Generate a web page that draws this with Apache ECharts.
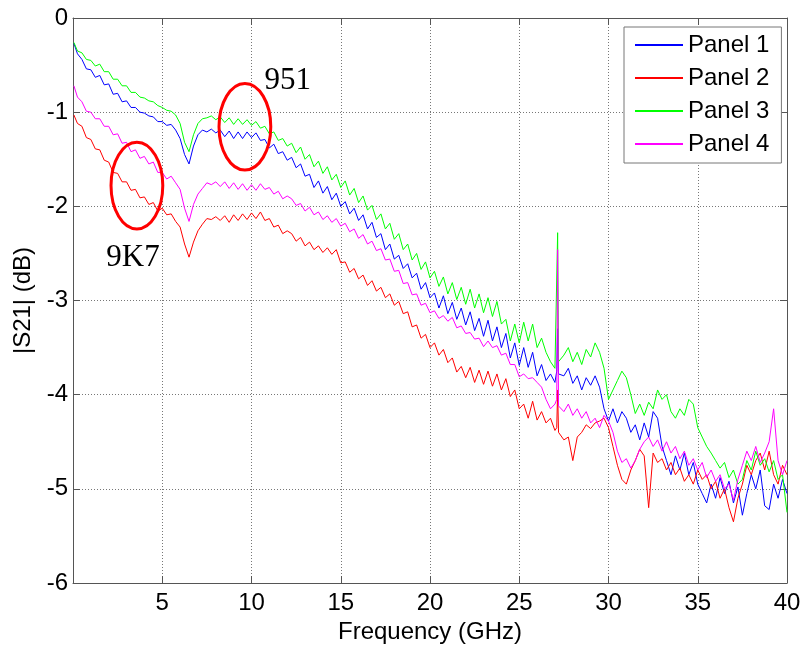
<!DOCTYPE html>
<html>
<head>
<meta charset="utf-8">
<script src="https://cdn.jsdelivr.net/npm/echarts@6/dist/echarts.min.js"></script>
<style>html,body{margin:0;padding:0;background:#fff;}#c{width:804px;height:649px;}</style>
</head>
<body>
<div id="c"></div>
<script>
const freq = [
0.05,0.25,0.5,0.75,1,1.25,1.5,1.75,2,
2.25,2.5,2.75,3,3.25,3.5,3.75,4,
4.25,4.5,4.75,5,5.25,5.5,5.75,6,
6.25,6.5,6.75,7,7.25,7.5,7.75,8,
8.25,8.5,8.75,9,9.25,9.5,9.75,10,
10.25,10.5,10.75,11,11.25,11.5,11.75,12,
12.25,12.5,12.75,13,13.25,13.5,13.75,14,
14.25,14.5,14.75,15,15.25,15.5,15.75,16,
16.25,16.5,16.75,17,17.25,17.5,17.75,18,
18.25,18.5,18.75,19,19.25,19.5,19.75,20,
20.25,20.5,20.75,21,21.25,21.5,21.75,22,
22.25,22.5,22.75,23,23.25,23.5,23.75,24,
24.25,24.5,24.75,25,25.25,25.5,25.75,26,
26.25,26.5,26.75,27,27.1,27.15,27.2,27.5,27.75,28,
28.25,28.5,28.75,29,29.25,29.5,29.75,30,
30.25,30.5,30.75,31,31.25,31.5,31.75,32,
32.25,32.5,32.75,33,33.25,33.5,33.75,34,
34.25,34.5,34.75,35,35.25,35.5,35.75,36,
36.25,36.5,36.75,37,37.25,37.5,37.75,38,
38.25,38.5,38.75,39,39.25,39.5,39.75,40
];
const panel1 = [
-0.27,-0.38,-0.44,-0.54,-0.55,-0.63,-0.61,-0.71,-0.70,
-0.81,-0.80,-0.89,-0.88,-0.95,-0.95,-1.00,-1.01,
-1.04,-1.05,-1.10,-1.10,-1.14,-1.13,-1.19,-1.28,
-1.45,-1.55,-1.36,-1.24,-1.19,-1.21,-1.18,-1.22,
-1.19,-1.26,-1.20,-1.28,-1.21,-1.28,-1.21,-1.27,
-1.22,-1.30,-1.29,-1.38,-1.34,-1.44,-1.42,-1.51,
-1.48,-1.59,-1.55,-1.68,-1.66,-1.80,-1.73,-1.86,
-1.79,-1.93,-1.86,-2.00,-1.95,-2.08,-2.02,-2.15,
-2.09,-2.24,-2.17,-2.33,-2.29,-2.46,-2.40,-2.56,
-2.52,-2.66,-2.61,-2.76,-2.71,-2.88,-2.81,-2.97,
-2.92,-3.08,-2.95,-3.14,-3.02,-3.20,-3.08,-3.26,
-3.12,-3.32,-3.19,-3.38,-3.21,-3.43,-3.28,-3.50,
-3.35,-3.61,-3.45,-3.69,-3.50,-3.71,-3.55,-3.80,
-3.68,-3.85,-3.78,-3.87,-3.75,-3.30,-3.78,-3.80,-3.72,-3.88,
-3.80,-3.95,-3.82,-3.90,-3.80,-3.92,-4.15,-4.28,
-4.15,-4.30,-4.18,-4.25,-4.40,-4.32,-4.48,-4.30,
-4.45,-4.18,-4.25,-4.55,-4.70,-4.85,-4.65,-4.80,
-4.62,-4.85,-4.72,-4.95,-5.05,-5.15,-4.95,-5.10,
-4.88,-5.05,-4.92,-5.15,-4.98,-5.28,-5.05,-4.85,
-5.00,-4.80,-5.18,-5.22,-4.95,-5.10,-4.90,-5.05
];
const panel2 = [
-1.03,-1.12,-1.15,-1.27,-1.29,-1.39,-1.40,-1.51,-1.53,
-1.64,-1.65,-1.74,-1.74,-1.83,-1.82,-1.91,-1.90,
-1.98,-1.96,-2.05,-2.02,-2.09,-2.08,-2.16,-2.22,
-2.40,-2.54,-2.38,-2.26,-2.19,-2.13,-2.14,-2.11,
-2.15,-2.10,-2.17,-2.09,-2.15,-2.08,-2.14,-2.07,
-2.13,-2.06,-2.15,-2.13,-2.22,-2.20,-2.29,-2.26,
-2.29,-2.37,-2.33,-2.42,-2.38,-2.46,-2.42,-2.49,
-2.44,-2.51,-2.46,-2.60,-2.59,-2.70,-2.66,-2.77,
-2.73,-2.84,-2.79,-2.90,-2.86,-2.97,-2.93,-3.05,
-3.01,-3.14,-3.12,-3.28,-3.26,-3.40,-3.36,-3.50,
-3.45,-3.58,-3.52,-3.66,-3.61,-3.76,-3.70,-3.82,
-3.71,-3.87,-3.74,-3.89,-3.75,-3.91,-3.78,-3.95,
-3.83,-4.02,-3.95,-4.15,-4.10,-4.25,-4.07,-4.27,
-4.18,-4.30,-4.25,-4.38,-4.35,-3.95,-4.40,-4.48,-4.45,-4.70,
-4.45,-4.40,-4.32,-4.36,-4.30,-4.28,-4.25,-4.35,
-4.55,-4.75,-4.90,-4.95,-4.80,-4.70,-4.58,-4.65,
-5.20,-4.62,-4.72,-4.68,-4.80,-4.72,-4.85,-4.78,
-4.92,-4.85,-4.95,-4.80,-4.90,-4.85,-5.00,-4.92,
-5.10,-5.00,-5.20,-5.35,-5.10,-4.95,-4.75,-4.85,
-4.70,-4.62,-4.80,-4.60,-4.85,-4.95,-4.75,-4.85
];
const panel3 = [
-0.26,-0.35,-0.37,-0.44,-0.45,-0.51,-0.49,-0.57,-0.57,
-0.65,-0.65,-0.72,-0.72,-0.79,-0.79,-0.84,-0.85,
-0.88,-0.89,-0.93,-0.95,-0.98,-0.99,-1.03,-1.12,
-1.32,-1.42,-1.24,-1.12,-1.07,-1.06,-1.04,-1.08,
-1.05,-1.11,-1.06,-1.13,-1.07,-1.13,-1.08,-1.14,
-1.10,-1.17,-1.15,-1.23,-1.21,-1.30,-1.28,-1.36,
-1.33,-1.43,-1.37,-1.50,-1.45,-1.58,-1.52,-1.65,
-1.58,-1.72,-1.66,-1.80,-1.73,-1.88,-1.81,-1.96,
-1.89,-2.04,-1.99,-2.14,-2.08,-2.24,-2.18,-2.35,
-2.29,-2.46,-2.40,-2.57,-2.50,-2.67,-2.59,-2.76,
-2.69,-2.85,-2.75,-2.93,-2.81,-2.99,-2.86,-3.04,
-2.88,-3.08,-2.93,-3.13,-2.97,-3.17,-3.01,-3.25,
-3.20,-3.43,-3.25,-3.45,-3.23,-3.43,-3.25,-3.50,
-3.40,-3.55,-3.65,-3.72,-3.70,-2.28,-3.65,-3.58,-3.50,-3.65,
-3.55,-3.68,-3.52,-3.60,-3.45,-3.55,-3.72,-4.05,
-3.95,-3.85,-3.75,-3.82,-4.00,-4.20,-4.10,-4.22,
-4.08,-4.15,-3.95,-4.05,-4.00,-4.18,-4.25,-4.15,
-4.22,-4.05,-4.10,-4.35,-4.45,-4.55,-4.62,-4.70,
-4.78,-4.72,-4.88,-4.80,-4.95,-4.90,-4.70,-4.80,
-4.60,-4.75,-4.68,-4.82,-4.70,-4.90,-4.85,-5.25
];
const panel4 = [
-0.72,-0.84,-0.89,-0.99,-1.00,-1.07,-1.07,-1.15,-1.15,
-1.24,-1.23,-1.33,-1.32,-1.42,-1.40,-1.49,-1.47,
-1.55,-1.53,-1.64,-1.64,-1.71,-1.68,-1.75,-1.82,
-2.02,-2.16,-1.98,-1.87,-1.81,-1.75,-1.77,-1.74,
-1.79,-1.74,-1.81,-1.75,-1.82,-1.76,-1.83,-1.77,
-1.83,-1.76,-1.82,-1.80,-1.87,-1.84,-1.92,-1.89,
-1.92,-1.99,-1.97,-2.05,-2.01,-2.09,-2.06,-2.14,
-2.10,-2.17,-2.13,-2.21,-2.18,-2.27,-2.24,-2.34,
-2.30,-2.40,-2.37,-2.47,-2.45,-2.57,-2.56,-2.69,
-2.68,-2.82,-2.81,-2.94,-2.93,-3.05,-3.03,-3.13,
-3.11,-3.19,-3.16,-3.22,-3.18,-3.29,-3.27,-3.35,
-3.34,-3.41,-3.40,-3.49,-3.43,-3.50,-3.48,-3.58,
-3.56,-3.68,-3.68,-3.81,-3.78,-3.83,-3.82,-3.87,
-3.92,-4.05,-4.15,-4.10,-4.05,-2.46,-4.12,-4.18,-4.10,-4.22,
-4.15,-4.25,-4.18,-4.30,-4.25,-4.35,-4.22,-4.28,
-4.40,-4.60,-4.72,-4.68,-4.78,-4.70,-4.58,-4.50,
-4.45,-4.55,-4.48,-4.60,-4.50,-4.62,-4.55,-4.68,
-4.60,-4.75,-4.68,-4.80,-4.72,-4.88,-4.80,-4.92,
-4.85,-5.00,-4.95,-5.12,-4.90,-4.75,-4.60,-4.70,
-4.55,-4.72,-4.62,-4.50,-4.15,-4.70,-4.85,-4.70
];
const seriesNames = ['Panel 1','Panel 2','Panel 3','Panel 4'];
const seriesColors = ['#0000ff','#ff0000','#00ff00','#ff00ff'];
const xTicks = [0,5,10,15,20,25,30,35,40];
const yTicks = [-6,-5,-4,-3,-2,-1,0];
// annotations (data coordinates)
const ellipseCenters = [[9.63,-1.155],[3.58,-1.78]];
const ellipseRadius = [1.45,0.46];
const annotLabels = ['951','9K7'];
const annotPos = [[12.03,-0.67],[3.36,-2.55]];

const values = [panel1,panel2,panel3,panel4];
const lineSeries = values.map((v,k)=>({
  name: seriesNames[k], type:'line', xAxisIndex:0, yAxisIndex:0,
  data: freq.map((f,i)=>[f,v[i]]),
  symbol:'none', showSymbol:false, animation:false,
  lineStyle:{color:seriesColors[k], width:1}, itemStyle:{color:seriesColors[k]},
  z: 2 + k
}));

const font = 'Liberation Sans, Arial, sans-serif';
const axisLineStyle = {color:'#555', width:1};
const chart = echarts.init(document.getElementById('c'), null, {renderer:'canvas'});
chart.setOption({
  animation:false,
  backgroundColor:'#fff',
  grid:{left:73, top:18, right:17, bottom:66, containLabel:false},
  legend:{
    data: seriesNames, orient:'vertical', left:624, top:27,
    padding:[6,12,7,10], itemGap:9, itemWidth:48, itemHeight:14,
    backgroundColor:'#fff', borderColor:'#777', borderWidth:1,
    itemStyle:{opacity:0},
    textStyle:{fontFamily:font, fontSize:24, color:'#000', lineHeight:24},
    z: 20
  },
  xAxis:[{
    type:'value', min:xTicks[0], max:xTicks[xTicks.length-1], interval:5, position:'bottom',
    axisLine:{show:true, onZero:false, lineStyle:axisLineStyle},
    axisTick:{show:true, inside:true, length:7, lineStyle:axisLineStyle},
    axisLabel:{fontFamily:font, fontSize:24, color:'#000', margin:8,
      formatter:(v)=> v===0 ? '' : String(v)},
    splitLine:{show:true, lineStyle:{color:'#777', type:[1,2], width:1}},
    name:'Frequency (GHz)', nameLocation:'middle', nameGap:27,
    nameTextStyle:{fontFamily:font, fontSize:24, color:'#000'}
  },{
    type:'value', min:0, max:40, interval:5, position:'top',
    axisLine:{show:true, onZero:false, lineStyle:axisLineStyle},
    axisTick:{show:true, inside:true, length:7, lineStyle:axisLineStyle},
    axisLabel:{show:false}, splitLine:{show:false}
  }],
  yAxis:[{
    type:'value', min:yTicks[0], max:yTicks[yTicks.length-1], interval:1, position:'left',
    axisLine:{show:true, onZero:false, lineStyle:axisLineStyle},
    axisTick:{show:true, inside:true, length:7, lineStyle:axisLineStyle},
    axisLabel:{fontFamily:font, fontSize:24, color:'#000', margin:5},
    splitLine:{show:true, lineStyle:{color:'#777', type:[1,2], width:1}},
    name:'|S21| (dB)', nameLocation:'middle', nameGap:33, nameRotate:90,
    nameTextStyle:{fontFamily:font, fontSize:24, color:'#000'}
  },{
    type:'value', min:-6, max:0, interval:1, position:'right',
    axisLine:{show:true, onZero:false, lineStyle:axisLineStyle},
    axisTick:{show:true, inside:true, length:7, lineStyle:axisLineStyle},
    axisLabel:{show:false}, splitLine:{show:false}
  }],
  series: lineSeries.concat([
    {
      type:'custom', name:'ellipses', silent:true, z:10, clip:false,
      data: ellipseCenters,
      renderItem:(params, api)=>{
        const c = api.coord([api.value(0), api.value(1)]);
        const s = api.size([ellipseRadius[0], ellipseRadius[1]]);
        return {type:'ellipse', shape:{cx:c[0], cy:c[1], rx:s[0], ry:s[1]},
          style:{fill:null, stroke:'#ff0000', lineWidth:3}};
      }
    },
    {
      type:'custom', name:'labels', silent:true, z:10, clip:false,
      data: annotPos.map((p,i)=>[p[0],p[1],i]),
      renderItem:(params, api)=>{
        const c = api.coord([api.value(0), api.value(1)]);
        return {type:'text', x:c[0], y:c[1],
          style:{text: annotLabels[api.value(2)], fill:'#000',
            fontFamily:'Liberation Serif, Times New Roman, serif', fontSize:31,
            align:'center', verticalAlign:'middle'}};
      }
    }
  ])
});
</script>
</body>
</html>
